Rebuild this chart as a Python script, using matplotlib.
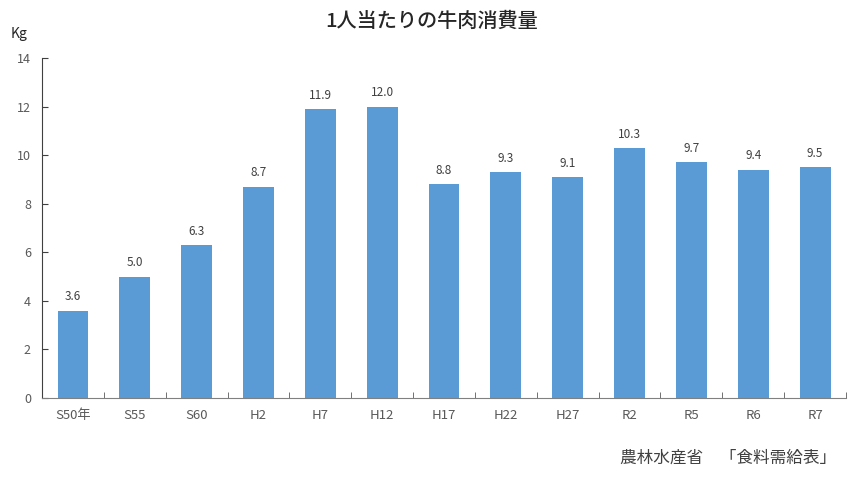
import matplotlib
matplotlib.use('Agg')
import matplotlib.pyplot as plt
import numpy as np

plt.rcParams['font.family'] = ['Noto Sans CJK JP', 'DejaVu Sans']

# data
categories = ['S50年', 'S55', 'S60', 'H2', 'H7', 'H12', 'H17', 'H22', 'H27', 'R2', 'R5', 'R6', 'R7']
values = [3.6, 5.0, 6.3, 8.7, 11.9, 12.0, 8.8, 9.3, 9.1, 10.3, 9.7, 9.4, 9.5]
yticks = [0, 2, 4, 6, 8, 10, 12, 14]

fig = plt.figure(figsize=(8.58, 4.79), dpi=100)
ax = fig.add_axes([0.049, 0.169, 0.937, 0.710])

x = np.arange(len(categories))
bars = ax.bar(x, values, width=0.5, color='#5B9BD5')

for xi, v in zip(x, values):
    ax.text(xi, v + 0.3, f'{v:.1f}', ha='center', va='bottom', fontsize=8.5, color='#404040')

ax.set_xlim(-0.5, len(categories) - 0.5)
ax.set_ylim(0, 14)
ax.set_yticks(yticks)
ax.set_yticklabels([str(t) for t in yticks], fontsize=9, color='#595959')

ax.set_xticks(x)
ax.set_xticklabels(categories, fontsize=9.5, color='#595959')
ax.tick_params(axis='x', length=0, pad=8)
ax.set_xticks(np.arange(-0.5, len(categories)), minor=True)
ax.tick_params(axis='x', which='minor', direction='in', length=4, color='#595959')
ax.tick_params(axis='y', direction='in', length=4, color='#404040', pad=8)

for s in ['top', 'right']:
    ax.spines[s].set_visible(False)
ax.spines['left'].set_color('#404040')
ax.spines['bottom'].set_color('#808080')

fig.text(0.503, 0.955, '1人当たりの牛肉消費量', ha='center', va='center', fontsize=14.5,
         fontweight='medium', color='#262626')
fig.text(0.012, 0.928, 'Kg', ha='left', va='center', fontsize=10, color='#262626')
fig.text(0.974, 0.043, '農林水産省　「食料需給表」', ha='right', va='center', fontsize=12, color='#404040')

fig.savefig('out.png', dpi=100)
